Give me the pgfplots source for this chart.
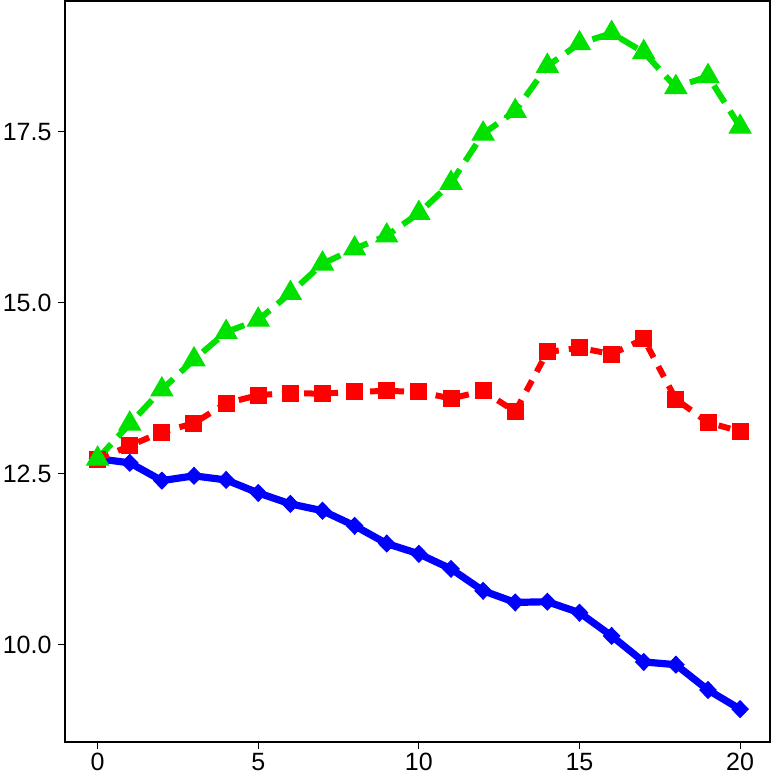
\documentclass[border=0pt]{standalone}
\usepackage{pgfplots}
\pgfplotsset{compat=1.18}
\usepackage{fontspec}
\setmainfont{Liberation Sans}
\definecolor{rblue}{RGB}{0,0,255}
\definecolor{rred}{RGB}{255,0,0}
\definecolor{rgreen}{RGB}{0,225,0}
\begin{document}
\begin{tikzpicture}
\begin{axis}[
  name=ax,
  scale only axis,
  width=352.25pt,
  height=370.5pt,
  xmin=-1, xmax=20.93,
  ymin=8.58, ymax=19.41,
  xtick={0,5,10,15,20},
  ytick={10,12.5,15,17.5},
  yticklabel style={/pgf/number format/.cd,fixed,fixed zerofill,precision=1},
  xticklabel style={yshift=1.5pt},
  /pgf/number format/assume math mode=true,
  tick label style={font=\fontsize{12.5}{14}\selectfont},
  tick align=outside,
  xtick pos=bottom, ytick pos=left,
  major tick length=3.5pt,
  tick style={black, line width=0.6pt},
  axis line style={line width=1pt},
  clip=false,
]
\addplot[rblue, line width=3.6pt, mark=diamond*, mark size=4.2pt, mark options={solid, xscale=1.3, line width=0.5pt}] coordinates {
(0,12.72) (1,12.66) (2,12.40) (3,12.47) (4,12.41) (5,12.22) (6,12.06) (7,11.96)
(8,11.74) (9,11.48) (10,11.33) (11,11.11) (12,10.79) (13,10.62) (14,10.63)
(15,10.47) (16,10.13) (17,9.75) (18,9.71) (19,9.34) (20,9.06)
};
\addplot[rred, line width=3pt, dash pattern=on 6pt off 5pt, mark=square*, mark size=4pt, mark options={solid, line width=0.5pt}] coordinates {
(0,12.71) (1,12.91) (2,13.11) (3,13.24) (4,13.53) (5,13.65) (6,13.68) (7,13.67)
(8,13.70) (9,13.71) (10,13.70) (11,13.60) (12,13.71) (13,13.41) (14,14.28)
(15,14.34) (16,14.25) (17,14.47) (18,13.59) (19,13.25) (20,13.12)
};
\addplot[rgreen, line width=3pt, dash pattern=on 10pt off 5pt, mark=triangle*, mark size=6.3pt, mark options={solid, line width=0.5pt}] coordinates {
(0,12.72) (1,13.23) (2,13.73) (3,14.17) (4,14.57) (5,14.75) (6,15.14) (7,15.57)
(8,15.79) (9,15.98) (10,16.31) (11,16.75) (12,17.47) (13,17.80) (14,18.46)
(15,18.79) (16,18.94) (17,18.66) (18,18.15) (19,18.31) (20,17.57)
};
\end{axis}
\pgfresetboundingbox
\path ([xshift=-32.75pt,yshift=-15pt]ax.south west) rectangle ([xshift=1pt,yshift=0.5pt]ax.north east);
\end{tikzpicture}
\end{document}
